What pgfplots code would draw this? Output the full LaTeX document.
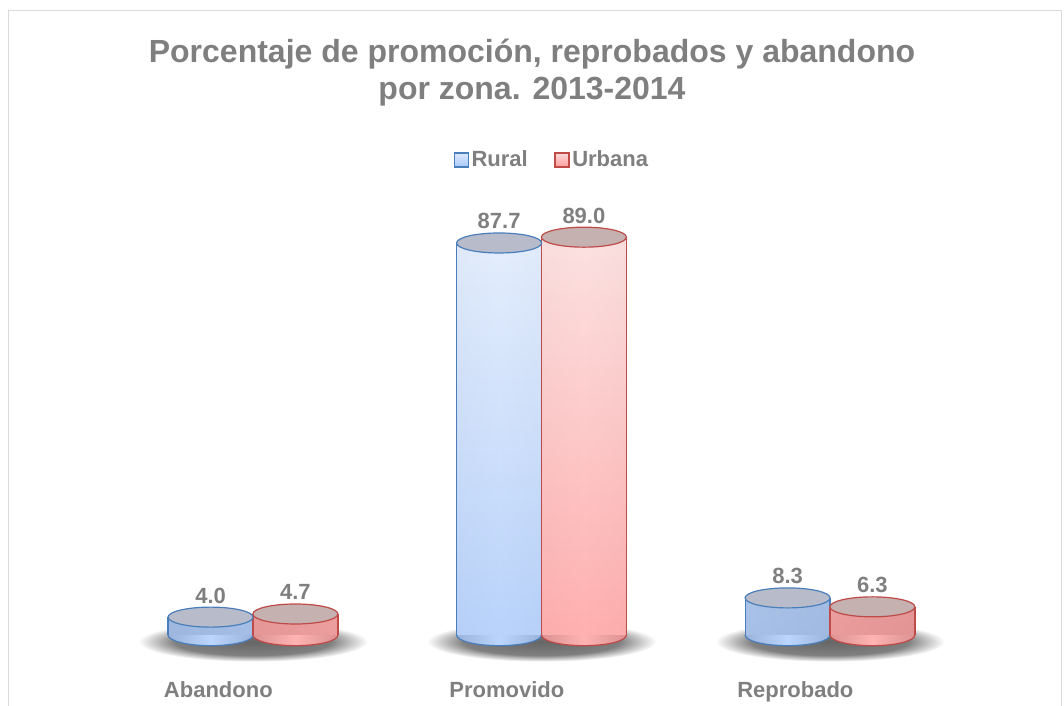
\documentclass[border=0pt]{standalone}
\usepackage{pgfplots}
\pgfplotsset{compat=1.18}
\usepackage{pgfplotstable}
\usepackage{fontspec}
\setmainfont{Liberation Sans}

\definecolor{textgray}{HTML}{7F7F7F}
\definecolor{framegray}{HTML}{D9D9D9}
\definecolor{blueedge}{HTML}{4A7EBB}
\definecolor{rededge}{HTML}{BE4B48}
\definecolor{bluetop}{HTML}{B8BCCA}
\definecolor{redtop}{HTML}{C6B1B1}
\definecolor{bluehi}{HTML}{DDE9FC}
\definecolor{bluelo}{HTML}{A8C8FA}
\definecolor{redhi}{HTML}{FCDADA}
\definecolor{redlo}{HTML}{FF9C9C}
\definecolor{bluebotedge}{HTML}{9AB3DA}
\definecolor{bluebotmid}{HTML}{BCD5FC}
\definecolor{redbotedge}{HTML}{DC9292}
\definecolor{redbotmid}{HTML}{FFB3B3}

\pgfdeclareradialshading{shadowsh}{\pgfpointorigin}{color(0bp)=(black!60); color(17bp)=(black!50); color(25bp)=(white); color(50bp)=(white)}
\pgfdeclarehorizontalshading{bluebotsh}{100bp}{color(0bp)=(bluebotedge); color(25bp)=(bluebotedge); color(50bp)=(bluebotmid); color(75bp)=(bluebotedge); color(100bp)=(bluebotedge)}
\pgfdeclarehorizontalshading{redbotsh}{100bp}{color(0bp)=(redbotedge); color(25bp)=(redbotedge); color(50bp)=(redbotmid); color(75bp)=(redbotedge); color(100bp)=(redbotedge)}

\pgfdeclareplotmark{cyltop}{\pgfpathellipse{\pgfpointorigin}{\pgfqpoint{31.875pt}{0pt}}{\pgfqpoint{0pt}{7.5pt}}\pgfusepathqfillstroke}
\pgfdeclareplotmark{cylbotblue}{\pgfpathmoveto{\pgfqpoint{-31.875pt}{0pt}}\pgfpatharc{180}{360}{31.875pt and 8pt}\pgfshadepath{bluebotsh}{0}\pgfusepath{stroke}}
\pgfdeclareplotmark{cylbotred}{\pgfpathmoveto{\pgfqpoint{-31.875pt}{0pt}}\pgfpatharc{180}{360}{31.875pt and 8pt}\pgfshadepath{redbotsh}{0}\pgfusepath{stroke}}
\pgfdeclareplotmark{cylshadow}{\pgfpathellipse{\pgfqpoint{0pt}{-5pt}}{\pgfqpoint{86pt}{0pt}}{\pgfqpoint{0pt}{15pt}}\pgfshadepath{shadowsh}{0}\pgfusepath{discard}}

% c = category index (0 Abandono, 1 Promovido, 2 Reprobado), v = percentage
\pgfplotstableread{
c v
0 4.0
1 87.7
2 8.3
}\rural
\pgfplotstableread{
c v
0 4.7
1 89.0
2 6.3
}\urbana

\begin{document}
\begin{tikzpicture}
\begin{axis}[
  name=ax,
  set layers,
  x=216.375pt, y=3.3525pt,
  xmin=-0.8769, xmax=2.8111, ymin=-15.88, ymax=142.06,
  axis line style={draw=none}, tick style={draw=none},
  ytick=\empty,
  xtick={0,1,2},
  xticklabels={Abandono,Promovido,Reprobado},
  xticklabel style={font=\fontsize{16.5}{19}\selectfont\bfseries, text=textgray, anchor=base, yshift=6pt, xshift=-26pt},
  clip=false,
  title={Porcentaje de promoción, reprobados y abandono\\por zona. 2013-2014},
  title style={at={(0.5,0.9342)}, anchor=north, inner sep=0pt, align=center, text=textgray, font=\fontsize{24}{27.75}\selectfont\bfseries},
  legend style={at={(0.519,0.7734)}, anchor=center, draw=none, fill=none, legend columns=2,
    font=\fontsize{16.5}{19}\selectfont\bfseries, text=textgray,
    /tikz/every even column/.append style={column sep=18pt}},
  legend cell align=left,
]
% frame
\draw[framegray, line width=0.9pt] (rel axis cs:0.008,0) -- (rel axis cs:0.008,0.985) -- (rel axis cs:0.998,0.985) -- (rel axis cs:0.998,0);

% legend images
\addlegendimage{legend image code/.code={\draw[top color=bluehi, bottom color=bluelo, draw=blueedge, line width=0.9pt] (0pt,-5.25pt) rectangle (10.5pt,5.25pt);}}
\addlegendentry{Rural}
\addlegendimage{legend image code/.code={\draw[top color=redhi, bottom color=redlo, draw=rededge, line width=0.9pt] (0pt,-5.25pt) rectangle (10.5pt,5.25pt);}}
\addlegendentry{Urbana}

% shadows under each group (kept on a layer below the cylinders)
\addplot[only marks, mark=cylshadow, forget plot, on layer=axis background, mark layer=axis background] table[x=c, y expr=0] {\rural};

% ---- Rural cylinders ----
\addplot[ybar, bar width=63.75pt, bar shift=0pt, draw=none, top color=bluehi, bottom color=bluelo, forget plot]
  table[x expr=\thisrow{c}-0.147, y=v] {\rural};
\addplot[ybar, bar width=63.75pt, bar shift=0pt, draw=none, left color=black!55, right color=black!50, middle color=white, fill opacity=0.2, forget plot]
  table[x expr=\thisrow{c}-0.147, y=v] {\rural};
\addplot[only marks, mark=cylbotblue, mark options={draw=blueedge, line width=0.9pt}, forget plot]
  table[x expr=\thisrow{c}-0.147, y expr=0] {\rural};
\addplot[ycomb, mark=none, draw=blueedge, line width=0.9pt, forget plot]
  table[x expr=\thisrow{c}-0.147-0.1473, y=v] {\rural};
\addplot[ycomb, mark=none, draw=blueedge, line width=0.9pt, forget plot]
  table[x expr=\thisrow{c}-0.147+0.1473, y=v] {\rural};
\addplot[only marks, mark=cyltop, mark options={fill=bluetop, draw=blueedge, line width=0.9pt}, forget plot,
  nodes near coords={\pgfmathprintnumber[fixed,fixed zerofill,precision=1]{\pgfplotspointmeta}},
  every node near coord/.style={anchor=base, yshift=10.5pt, font=\fontsize{16.5}{19}\selectfont\bfseries, text=textgray},
  /pgf/number format/assume math mode=true]
  table[x expr=\thisrow{c}-0.147, y=v] {\rural};

% ---- Urbana cylinders ----
\addplot[ybar, bar width=63.75pt, bar shift=0pt, draw=none, top color=redhi, bottom color=redlo, forget plot]
  table[x expr=\thisrow{c}+0.147, y=v] {\urbana};
\addplot[ybar, bar width=63.75pt, bar shift=0pt, draw=none, left color=black!50, right color=black!55, middle color=white, fill opacity=0.2, forget plot]
  table[x expr=\thisrow{c}+0.147, y=v] {\urbana};
\addplot[only marks, mark=cylbotred, mark options={draw=rededge, line width=0.9pt}, forget plot]
  table[x expr=\thisrow{c}+0.147, y expr=0] {\urbana};
\addplot[ycomb, mark=none, draw=rededge, line width=0.9pt, forget plot]
  table[x expr=\thisrow{c}+0.147-0.1473, y=v] {\urbana};
\addplot[ycomb, mark=none, draw=rededge, line width=0.9pt, forget plot]
  table[x expr=\thisrow{c}+0.147+0.1473, y=v] {\urbana};
\addplot[only marks, mark=cyltop, mark options={fill=redtop, draw=rededge, line width=0.9pt}, forget plot,
  nodes near coords={\pgfmathprintnumber[fixed,fixed zerofill,precision=1]{\pgfplotspointmeta}},
  every node near coord/.style={anchor=base, yshift=10.5pt, font=\fontsize{16.5}{19}\selectfont\bfseries, text=textgray},
  /pgf/number format/assume math mode=true]
  table[x expr=\thisrow{c}+0.147, y=v] {\urbana};
\end{axis}
\pgfresetboundingbox
\path[use as bounding box] (ax.south west) rectangle (ax.north east);
\end{tikzpicture}
\end{document}
